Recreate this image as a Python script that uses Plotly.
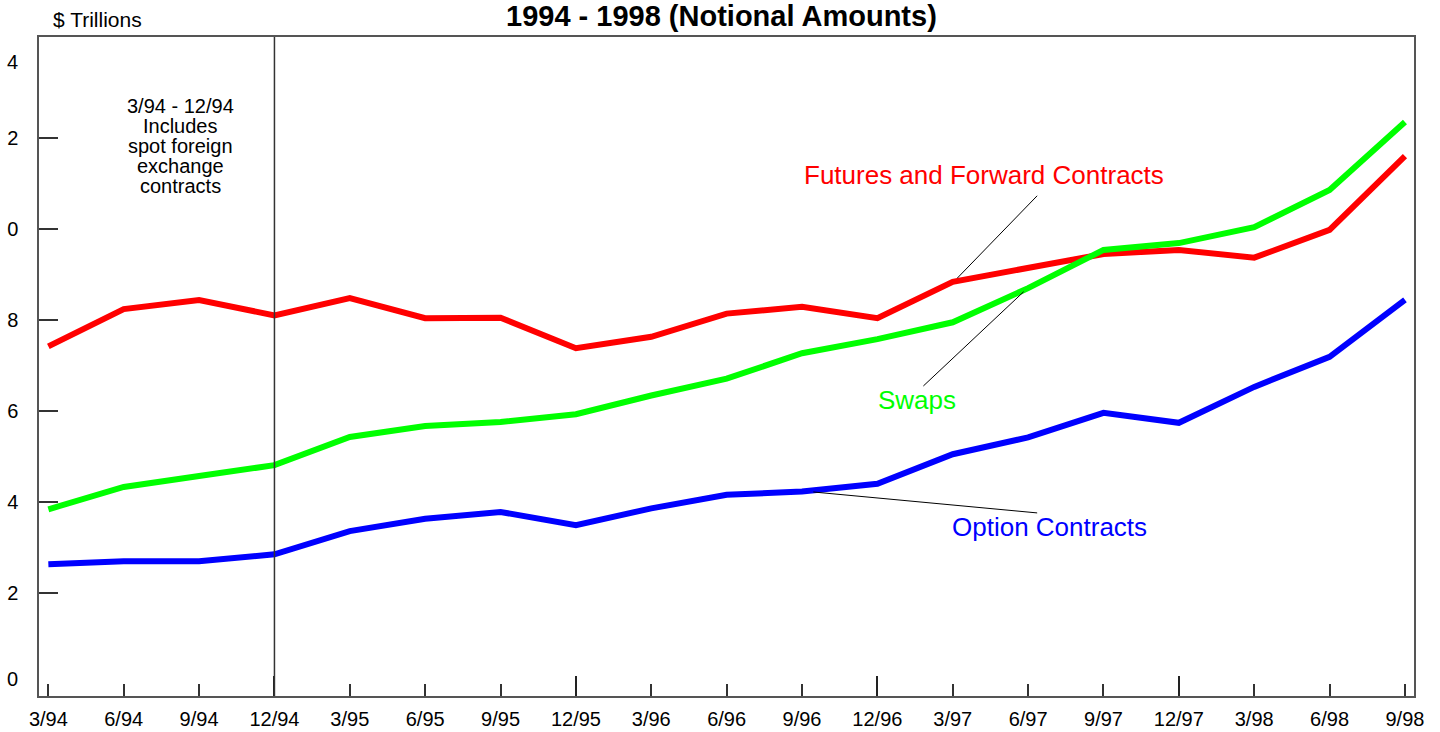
import plotly.graph_objects as go

# ---- data ----
periods = ["3/94", "6/94", "9/94", "12/94", "3/95", "6/95", "9/95", "12/95",
           "3/96", "6/96", "9/96", "12/96", "3/97", "6/97", "9/97", "12/97",
           "3/98", "6/98", "9/98"]
futures = [7.42, 8.24, 8.44, 8.10, 8.48, 8.04, 8.05, 7.38, 7.63, 8.14, 8.29, 8.04,
           8.84, 9.14, 9.45, 9.54, 9.37, 9.98, 11.60]
swaps = [3.84, 4.33, 4.57, 4.81, 5.43, 5.67, 5.76, 5.93, 6.34, 6.71, 7.27, 7.58,
         7.95, 8.70, 9.54, 9.69, 10.04, 10.86, 12.35]
options = [2.63, 2.70, 2.70, 2.85, 3.36, 3.63, 3.78, 3.49, 3.86, 4.16, 4.23, 4.40,
           5.05, 5.42, 5.96, 5.74, 6.53, 7.19, 8.44]
y_tickvals = [2, 4, 6, 8, 10, 12]
y_ticktext = ["2", "4", "6", "8", "0", "2"]
note_lines = ["3/94 - 12/94", "Includes", "spot foreign", "exchange", "contracts"]

FONT = "Liberation Sans, Arial, Helvetica, sans-serif"
idx = list(range(len(periods)))
dec_idx = [i for i, p in enumerate(periods) if p.startswith("12/")]
split_idx = periods.index("12/94")

fig = go.Figure()
for vals, col in [(futures, "#ff0000"), (swaps, "#00ff00"), (options, "#0000ff")]:
    fig.add_trace(go.Scatter(x=idx, y=vals, mode="lines",
                             line=dict(color=col, width=6),
                             showlegend=False, hoverinfo="skip"))
# invisible trace on the second x axis (long December ticks)
fig.add_trace(go.Scatter(x=[dec_idx[0]], y=[futures[0]], xaxis="x2",
                         mode="markers", marker=dict(opacity=0),
                         showlegend=False, hoverinfo="skip"))

xr = [-0.124, 18.12]
yr = [-0.264, 14.22]

fig.update_layout(
    width=1440, height=732,
    margin=dict(l=39, r=26, t=37, b=36, autoexpand=False),
    paper_bgcolor="white", plot_bgcolor="white",
    font=dict(family=FONT, color="black"),
    xaxis=dict(range=xr, tickmode="array", tickvals=idx, ticktext=periods,
               ticks="inside", ticklen=12, tickwidth=1.5, tickcolor="#333",
               showline=True, linecolor="#555", linewidth=1.5, mirror=True,
               showgrid=False, zeroline=False, ticklabelstandoff=4, automargin=False,
               tickfont=dict(size=20, family=FONT)),
    xaxis2=dict(range=xr, overlaying="x", anchor="y", side="bottom",
                tickmode="array", tickvals=dec_idx, ticks="inside", ticklen=20,
                tickwidth=2, tickcolor="#222", showticklabels=False, automargin=False,
                showline=False, showgrid=False, zeroline=False),
    yaxis=dict(range=yr, tickmode="array", tickvals=y_tickvals, ticktext=y_ticktext,
               ticks="inside", ticklen=19, tickwidth=1.5, tickcolor="#333",
               showline=True, linecolor="#555", linewidth=1.5, mirror=True,
               showgrid=False, zeroline=False, ticklabelstandoff=15, automargin=False,
               tickfont=dict(size=20, family=FONT)),
)

# vertical divider at 12/94
fig.add_shape(type="line", xref="x", yref="paper", x0=split_idx, x1=split_idx,
              y0=0, y1=1, line=dict(color="#333", width=1.5))

# leader lines
for x0, y0, x1, y1 in [(13.12, 10.73, 12.06, 8.92),
                       (11.61, 6.55, 12.94, 8.62),
                       (10.15, 4.22, 13.12, 3.76)]:
    fig.add_shape(type="line", xref="x", yref="y", x0=x0, y0=y0, x1=x1, y1=y1,
                  line=dict(color="black", width=1))

ann = []
ann.append(dict(text="<b>1994 - 1998 (Notional Amounts)</b>", xref="paper", yref="paper",
                x=0.4967, y=(696 - 16) / 659, xanchor="center", yanchor="middle",
                showarrow=False, font=dict(size=29, family=FONT, color="black")))
ann.append(dict(text="$ Trillions", xref="paper", yref="paper", x=0.0429, y=1.0273,
                xanchor="center", yanchor="middle", showarrow=False,
                font=dict(size=21, family=FONT, color="black")))
# end labels of the y axis
ann.append(dict(text="0", xref="paper", yref="paper", x=-0.0138, y=(696 - 679) / 659,
                xanchor="right", yanchor="middle", showarrow=False,
                font=dict(size=20, family=FONT, color="black")))
ann.append(dict(text="4", xref="paper", yref="paper", x=-0.0138, y=(696 - 62) / 659,
                xanchor="right", yanchor="middle", showarrow=False,
                font=dict(size=20, family=FONT, color="black")))
for k, line in enumerate(note_lines):
    ann.append(dict(text=line, xref="x", yref="paper", x=1.75,
                    y=(696 - (106 + 20 * k)) / 659, xanchor="center", yanchor="middle",
                    showarrow=False, font=dict(size=20, family=FONT, color="black")))
ann.append(dict(text="Futures and Forward Contracts", xref="x", yref="y", x=12.41, y=11.19,
                xanchor="center", yanchor="middle", showarrow=False,
                font=dict(size=26, family=FONT, color="#ff0000")))
ann.append(dict(text="Swaps", xref="x", yref="y", x=11.53, y=6.24,
                xanchor="center", yanchor="middle", showarrow=False,
                font=dict(size=26, family=FONT, color="#00ff00")))
ann.append(dict(text="Option Contracts", xref="x", yref="y", x=13.29, y=3.45,
                xanchor="center", yanchor="middle", showarrow=False,
                font=dict(size=26, family=FONT, color="#0000ff")))
fig.update_layout(annotations=ann)

fig.write_html("out.html", config={"displayModeBar": False},
               post_script="document.body.style.margin='0';document.body.style.padding='0';")
